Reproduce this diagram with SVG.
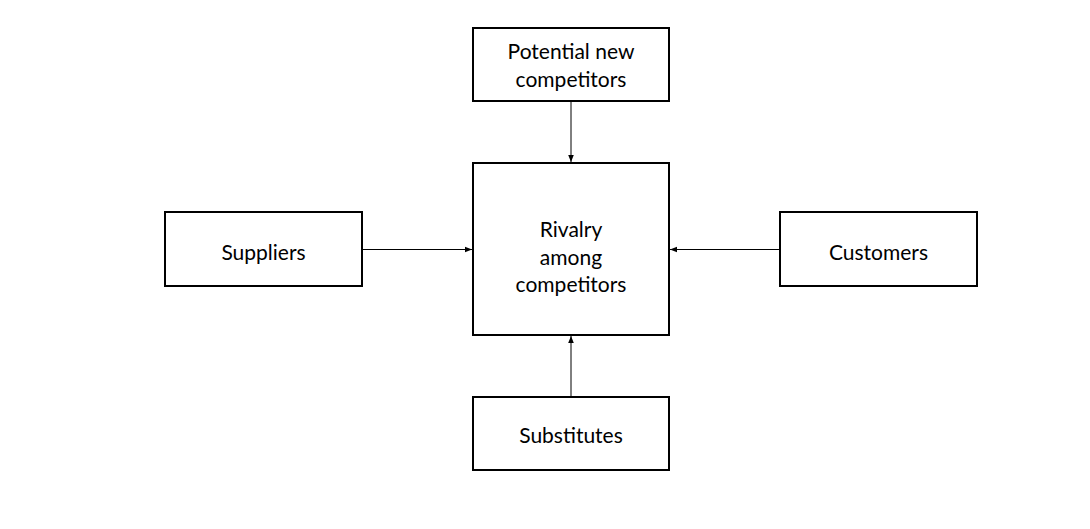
<svg xmlns="http://www.w3.org/2000/svg" width="1090" height="529" viewBox="0 0 1090 529">
<style>
.box{fill:#fff;stroke:#000;stroke-width:2}
.lbl{font-family:Lato,"Liberation Sans",sans-serif;font-size:21px;fill:#000;text-anchor:middle}
.edge{stroke:#000;stroke-width:1;fill:none;marker-end:url(#ah)}
</style>
<defs>
<marker id="ah" viewBox="0 0 10 10" refX="10" refY="5" markerWidth="7" markerHeight="7" markerUnits="userSpaceOnUse" orient="auto">
<path d="M0,1 L10,5 L0,9 Z" fill="#000"/>
</marker>
</defs>
<rect width="1090" height="529" fill="#fff"/>
<g id="connectors">
<line class="edge" x1="571" y1="102" x2="571" y2="162"/>
<line class="edge" x1="363" y1="249.5" x2="472" y2="249.5"/>
<line class="edge" x1="779" y1="249.5" x2="670" y2="249.5"/>
<line class="edge" x1="571" y1="396" x2="571" y2="336"/>
</g>
<g id="potential">
<rect class="box" x="473" y="28" width="196" height="73"/>
<text class="lbl" x="571" y="59">Potential new</text>
<text class="lbl" x="571" y="87">competitors</text>
</g>
<g id="rivalry">
<rect class="box" x="473" y="163" width="196" height="172"/>
<text class="lbl" x="571" y="237">Rivalry</text>
<text class="lbl" x="571" y="264.5">among</text>
<text class="lbl" x="571" y="292">competitors</text>
</g>
<g id="suppliers">
<rect class="box" x="165" y="212" width="197" height="74"/>
<text class="lbl" x="263.5" y="259.5">Suppliers</text>
</g>
<g id="customers">
<rect class="box" x="780" y="212" width="197" height="74"/>
<text class="lbl" x="878.5" y="259.5">Customers</text>
</g>
<g id="substitutes">
<rect class="box" x="473" y="397" width="196" height="73"/>
<text class="lbl" x="571" y="443">Substitutes</text>
</g>
</svg>
